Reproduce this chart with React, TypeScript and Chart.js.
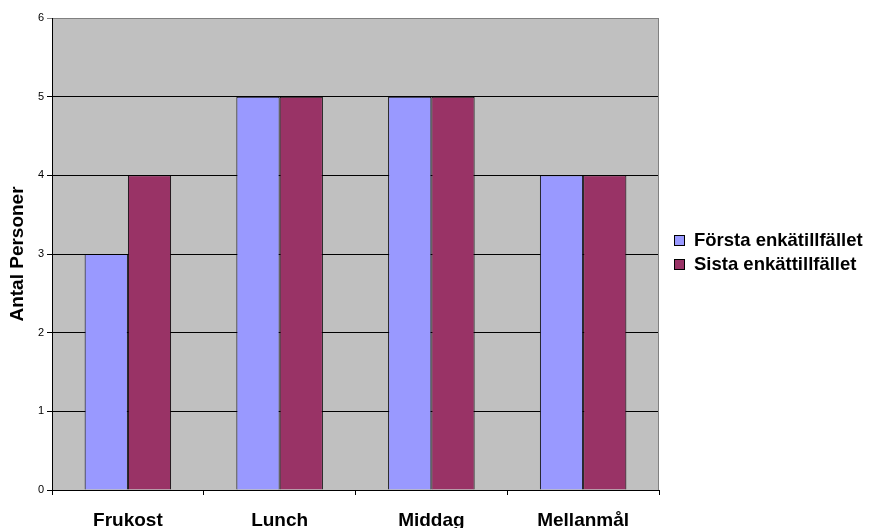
import React, { useEffect, useRef } from "react";
import { Chart, registerables } from "chart.js";

Chart.register(...registerables);

const categories = ["Frukost", "Lunch", "Middag", "Mellanmål"];
const seriesNames = ["Första enkätillfället", "Sista enkättillfället"];
const firstSurvey = [3, 5, 5, 4];
const lastSurvey = [4, 5, 5, 4];
const seriesColors = ["#9999FF", "#993366"];
const yTitle = "Antal Personer";

const FONT = "Arial, 'Liberation Sans', sans-serif";

const bgPlugin = {
  id: "plotBg",
  beforeDraw(chart: any) {
    const { ctx, chartArea } = chart;
    if (!chartArea) return;
    ctx.save();
    ctx.fillStyle = "#C0C0C0";
    ctx.fillRect(chartArea.left, chartArea.top, chartArea.right - chartArea.left, chartArea.bottom - chartArea.top);
    ctx.restore();
  },
  afterDraw(chart: any) {
    const { ctx, chartArea } = chart;
    ctx.save();
    ctx.strokeStyle = "#808080";
    ctx.lineWidth = 1;
    ctx.beginPath();
    const x = Math.round(chartArea.right) - 0.5;
    ctx.moveTo(x, chartArea.top);
    ctx.lineTo(x, chartArea.bottom);
    ctx.stroke();
    // legend
    const lx = 674;
    const ys = [240, 264];
    ctx.font = `bold 18.5px ${FONT}`;
    ctx.textBaseline = "middle";
    ctx.textAlign = "left";
    seriesNames.forEach((name, i) => {
      const y = ys[i];
      ctx.fillStyle = seriesColors[i];
      ctx.fillRect(lx, y - 5, 10, 10);
      ctx.strokeStyle = "#000";
      ctx.strokeRect(lx + 0.5, y - 4.5, 10, 10);
      ctx.fillStyle = "#000";
      ctx.fillText(name, lx + 20, y + 1);
    });
    ctx.restore();
  },
};

export default function App() {
  const ref = useRef<HTMLCanvasElement>(null);
  useEffect(() => {
    const chart = new Chart(ref.current!, {
      type: "bar",
      data: {
        labels: categories,
        datasets: [
          {
            label: seriesNames[0],
            data: firstSurvey,
            backgroundColor: seriesColors[0],
            borderColor: "#000",
            borderWidth: 1,
            categoryPercentage: 0.57,
            barPercentage: 1.0,
          },
          {
            label: seriesNames[1],
            data: lastSurvey,
            backgroundColor: seriesColors[1],
            borderColor: "#000",
            borderWidth: 1,
            categoryPercentage: 0.57,
            barPercentage: 1.0,
          },
        ],
      },
      options: {
        responsive: false,
        animation: false,
        layout: { padding: { left: 0, top: 18, right: 212, bottom: 0 } },
        plugins: { legend: { display: false }, tooltip: { enabled: false } },
        scales: {
          x: {
            offset: true,
            grid: {
              offset: true,
              drawOnChartArea: false,
              drawTicks: true,
              tickLength: 5,
              color: "#000",
            },
            border: { display: true, color: "#000" },
            ticks: {
              color: "#000",
              font: { family: FONT, size: 19, weight: "bold" },
              padding: 14,
              maxRotation: 0,
            },
            afterFit(scale: any) {
              scale.height = 38;
            },
          },
          y: {
            min: 0,
            max: 6,
            ticks: {
              stepSize: 1,
              color: "#000",
              font: { family: FONT, size: 11 },
              padding: 3,
            },
            grid: {
              color: (ctx: any) => (ctx.tick && ctx.tick.value === 6 ? "#808080" : "#000"),
              tickLength: 5,
            },
            border: { display: true, color: "#000" },
            title: {
              display: true,
              text: yTitle,
              color: "#000",
              font: { family: FONT, size: 19, weight: "bold" },
              padding: { top: 6, bottom: 0 },
            },
            afterFit(scale: any) {
              scale.width = 52;
            },
          },
        },
      },
      plugins: [bgPlugin],
    });
    return () => chart.destroy();
  }, []);
  return (
    <div style={{ position: "fixed", left: 0, top: 0, width: 871, height: 528, background: "#fff" }}>
      <canvas ref={ref} width={871} height={528} />
    </div>
  );
}
